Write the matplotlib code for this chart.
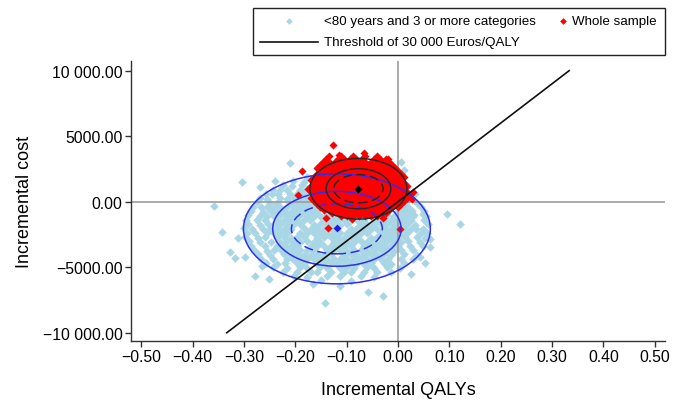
import matplotlib
matplotlib.use("Agg")
import matplotlib.pyplot as plt
from matplotlib.patches import Ellipse, Rectangle
from matplotlib.lines import Line2D

plt.rcParams['font.family'] = ['Liberation Sans', 'DejaVu Sans']

# ---------------- data ----------------
x_ticks = [-0.5, -0.4, -0.3, -0.2, -0.1, 0.0, 0.1, 0.2, 0.3, 0.4, 0.5]
x_tick_labels = ['\u22120.50', '\u22120.40', '\u22120.30', '\u22120.20', '\u22120.10', '0.00',
                 '0.10', '0.20', '0.30', '0.40', '0.50']
y_ticks = [-10000, -5000, 0, 5000, 10000]
y_tick_labels = ['\u221210 000.00', '\u22125000.00', '0.00', '5000.00', '10 000.00']

# "<80 years and 3 or more categories" bootstrap replicates (QALY, cost)
blue_qaly = [
    -0.358, -0.343, -0.312, -0.327, -0.317, -0.298, -0.278, -0.252, -0.265, -0.304, -0.239, -0.268, -0.210,
    -0.142, -0.058, -0.030, -0.113, -0.165,
    0.121, 0.095, 0.062, 0.053, 0.025, 0.005, 0.012, 0.043, 0.036, 0.049, 0.027, 0.062, 0.033,
    -0.178,
    -0.205, -0.183,
    -0.224, -0.207, -0.186,
    -0.244, -0.229, -0.217, -0.191, -0.178,
    -0.258, -0.246, -0.234, -0.210, -0.197, -0.184,
    -0.268, -0.255, -0.229, -0.216, -0.203, -0.190, -0.177, 0.022,
    -0.275, -0.249, -0.235, -0.210, -0.196, -0.183, -0.171, 0.013, 0.037,
    -0.282, -0.266, -0.255, -0.242, -0.229, -0.216, -0.203, -0.190, -0.177, -0.164, 0.006, 0.019, 0.044,
    -0.287, -0.262, -0.248, -0.235, -0.222, -0.209, -0.196, -0.183, -0.170, -0.157, -0.001, 0.012, 0.026, 0.050,
    -0.292, -0.268, -0.255, -0.242, -0.229, -0.216, -0.203, -0.190, -0.177, -0.164,
    -0.151, -0.138, -0.125, -0.034, -0.021, -0.008, 0.005, 0.018, 0.031, 0.055,
    -0.297, -0.274, -0.259, -0.236, -0.222, -0.210, -0.196, -0.183, -0.171, -0.144, -0.130, -0.118,
    -0.106, -0.092, -0.079, -0.066, -0.040, -0.027, -0.014, -0.001, 0.012, 0.026, 0.050,
    -0.292, -0.268, -0.254, -0.242, -0.229, -0.216, -0.203, -0.190, -0.164, -0.151, -0.138, -0.125,
    -0.112, -0.099, -0.073, -0.060, -0.047, -0.034, -0.021, -0.008, 0.005, 0.018, 0.033, 0.058,
    -0.299, -0.285, -0.262, -0.249, -0.235, -0.222, -0.209, -0.183, -0.170, -0.157, -0.144, -0.131,
    -0.118, -0.092, -0.079, -0.066, -0.053, -0.040, -0.027, -0.014, -0.001, 0.012, 0.025, 0.049,
    -0.294, -0.279, -0.256, -0.242, -0.229, -0.216, -0.190, -0.177, -0.164, -0.151, -0.138, -0.125,
    -0.112, -0.099, -0.086, -0.073, -0.060, -0.034, -0.021, -0.008, 0.005, 0.018, 0.044, 0.057,
    -0.298, -0.272, -0.259, -0.235, -0.222, -0.209, -0.196, -0.183, -0.157, -0.144, -0.131, -0.118,
    -0.105, -0.092, -0.079, -0.053, -0.040, -0.027, -0.014, -0.001, 0.013, 0.037, 0.052,
    -0.290, -0.268, -0.247, -0.229, -0.216, -0.203, -0.190, -0.177, -0.164, -0.151, -0.125, -0.112,
    -0.099, -0.086, -0.073, -0.060, -0.047, -0.034, -0.021, -0.008, 0.006, 0.019, 0.043,
    -0.286, -0.260, -0.236, -0.222, -0.209, -0.196, -0.170, -0.157, -0.144, -0.131, -0.118,
    -0.105, -0.092, -0.066, -0.053, -0.040, -0.027, -0.014, 0.000, 0.024, 0.049,
    -0.280, -0.256, -0.241, -0.228, -0.216, -0.203, -0.190, -0.177, -0.164, -0.138, -0.125,
    -0.112, -0.099, -0.086, -0.073, -0.060, -0.047, -0.034, -0.021, -0.008, 0.006, 0.030,
    -0.273, -0.249, -0.222, -0.209, -0.196, -0.183, -0.170, -0.157, -0.144, -0.131,
    -0.105, -0.092, -0.079, -0.066, -0.053, -0.040, -0.027, -0.013, 0.011, 0.037,
    -0.266, -0.243, -0.216, -0.204, -0.190, -0.177, -0.164, -0.151, -0.138, -0.125,
    -0.112, -0.099, -0.086, -0.073, -0.060, -0.047, -0.034, -0.020, 0.006, 0.030,
    -0.258, -0.235, -0.221, -0.196, -0.183, -0.157, -0.144, -0.131, -0.118,
    -0.105, -0.092, -0.079, -0.066, -0.053, -0.027, -0.014, 0.012,
    -0.243, -0.216, -0.190, -0.177, -0.151, -0.138, -0.112, -0.099, -0.086, -0.060, -0.047, -0.021, 0.004,
    -0.224, -0.196, -0.170, -0.157, -0.131, -0.105, -0.092, -0.066, -0.040, -0.014,
    -0.203, -0.177, -0.138, -0.112, -0.073, -0.047,
    -0.150, -0.092,
]
blue_cost = [
    -350, -2290, -2790, -3860, -4320, -4240, -5650, -5930, -4930, 1540, 1600, 1100, 2930,
    -7700, -6890, -7230, -6430, -6280,
    -1700, -940, -3480, -4700, -5520, 3000, 2440, -4240, -2080, -940, -690, -2850, 600,
    1880,
    1590, 1540,
    1260, 1210, 1250,
    930, 890, 920, 880, 940,
    560, 600, 570, 590, 550, 610,
    270, 230, 260, 240, 280, 220, 250, 240,
    -60, -100, -70, -90, -50, -110, -80, -70, -100,
    -390, -430, -400, -420, -380, -440, -410, -390, -430, -400, -420, -390, -410,
    -720, -760, -730, -750, -710, -770, -740, -720, -760, -730, -750, -720, -760, -740,
    -1050, -1090, -1060, -1080, -1040, -1100, -1070, -1050, -1090, -1060,
    -1080, -1040, -1100, -1070, -1050, -1090, -1060, -1080, -1040, -1070,
    -1380, -1420, -1390, -1410, -1370, -1430, -1400, -1380, -1420, -1390, -1410, -1370,
    -1430, -1400, -1380, -1420, -1390, -1410, -1370, -1430, -1400, -1380, -1420,
    -1710, -1750, -1720, -1740, -1700, -1760, -1730, -1710, -1750, -1720, -1740, -1700,
    -1760, -1730, -1710, -1750, -1720, -1740, -1700, -1760, -1730, -1710, -1750, -1720,
    -2040, -2080, -2050, -2070, -2030, -2090, -2060, -2040, -2080, -2050, -2070, -2030,
    -2090, -2060, -2040, -2080, -2050, -2070, -2030, -2090, -2060, -2040, -2080, -2050,
    -2370, -2410, -2380, -2400, -2360, -2420, -2390, -2370, -2410, -2380, -2400, -2360,
    -2420, -2390, -2370, -2410, -2380, -2400, -2360, -2420, -2390, -2370, -2410, -2380,
    -2700, -2740, -2710, -2730, -2690, -2750, -2720, -2700, -2740, -2710, -2730, -2690,
    -2750, -2720, -2700, -2740, -2710, -2730, -2690, -2750, -2720, -2700, -2740,
    -3030, -3070, -3040, -3060, -3020, -3080, -3050, -3030, -3070, -3040, -3060, -3020,
    -3080, -3050, -3030, -3070, -3040, -3060, -3020, -3080, -3050, -3030, -3070,
    -3360, -3400, -3370, -3390, -3350, -3410, -3380, -3360, -3400, -3370, -3390,
    -3350, -3410, -3380, -3360, -3400, -3370, -3390, -3350, -3410, -3380,
    -3690, -3730, -3700, -3720, -3680, -3740, -3710, -3690, -3730, -3700, -3720,
    -3680, -3740, -3710, -3690, -3730, -3700, -3720, -3680, -3740, -3710, -3690,
    -4020, -4060, -4030, -4050, -4010, -4070, -4040, -4020, -4060, -4030,
    -4050, -4010, -4070, -4040, -4020, -4060, -4030, -4050, -4010, -4070,
    -4350, -4390, -4360, -4380, -4340, -4400, -4370, -4350, -4390, -4360,
    -4380, -4340, -4400, -4370, -4350, -4390, -4360, -4380, -4340, -4400,
    -4680, -4720, -4690, -4710, -4670, -4730, -4700, -4680, -4720,
    -4690, -4710, -4670, -4730, -4700, -4680, -4720, -4690,
    -5010, -5050, -5020, -5040, -5000, -5060, -5030, -5010, -5050, -5020, -5040, -5000, -5060,
    -5340, -5380, -5350, -5370, -5330, -5390, -5360, -5340, -5380, -5350,
    -5670, -5710, -5680, -5700, -5660, -5720,
    -6000, -6040,
]

# "Whole sample" bootstrap replicates (QALY, cost)
red_qaly = [
    -0.127, -0.114, -0.067, -0.019, -0.187, -0.195, -0.145, -0.140, -0.136, 0.004, 0.030, 0.027, -0.090, -0.030,
    -0.111, -0.100, -0.088, -0.076, -0.065, -0.053, -0.041,
    -0.129, -0.117, -0.106, -0.094, -0.082, -0.070, -0.059, -0.047, -0.035, -0.024,
    -0.145, -0.135, -0.123, -0.111, -0.100, -0.088, -0.076, -0.065, -0.053, -0.041, -0.030, -0.018,
    -0.152, -0.141, -0.129, -0.117, -0.106, -0.094, -0.082, -0.070, -0.059, -0.047, -0.035, -0.024, -0.012, 0.000,
    -0.158, -0.147, -0.135, -0.123, -0.111, -0.100, -0.088, -0.076, -0.065, -0.053, -0.041, -0.030, -0.018, -0.006, 0.006,
    -0.164, -0.152, -0.141, -0.129, -0.117, -0.106, -0.094, -0.082, -0.070, -0.059, -0.047, -0.035, -0.024, -0.012, 0.000, 0.011,
    -0.170, -0.158, -0.147, -0.135, -0.123, -0.111, -0.100, -0.088, -0.076, -0.065, -0.053, -0.041, -0.030, -0.018, -0.006, 0.006, 0.017,
    -0.164, -0.152, -0.141, -0.129, -0.117, -0.106, -0.094, -0.082, -0.070, -0.059, -0.047, -0.035, -0.024, -0.012, 0.000, 0.011, 0.023,
    -0.170, -0.158, -0.147, -0.135, -0.123, -0.111, -0.100, -0.088, -0.076, -0.065, -0.053, -0.041, -0.030, -0.018, -0.006, 0.006, 0.017,
    -0.176, -0.164, -0.152, -0.141, -0.129, -0.117, -0.106, -0.094, -0.082, -0.070, -0.059, -0.047, -0.035, -0.024, -0.012, 0.000, 0.011,
    -0.170, -0.158, -0.147, -0.135, -0.123, -0.111, -0.100, -0.088, -0.076, -0.065, -0.053, -0.041, -0.030, -0.018, -0.006, 0.006, 0.017,
    -0.164, -0.152, -0.141, -0.129, -0.117, -0.106, -0.094, -0.082, -0.070, -0.059, -0.047, -0.035, -0.024, -0.012, 0.000, 0.011,
    -0.170, -0.158, -0.147, -0.135, -0.123, -0.111, -0.100, -0.088, -0.076, -0.065, -0.053, -0.041, -0.030, -0.018, -0.006, 0.006,
    -0.164, -0.152, -0.141, -0.129, -0.117, -0.106, -0.094, -0.082, -0.070, -0.059, -0.047, -0.035, -0.024, -0.012, 0.000, 0.011,
    -0.158, -0.147, -0.135, -0.123, -0.111, -0.100, -0.088, -0.076, -0.065, -0.053, -0.041, -0.030, -0.018, -0.006, 0.006,
    -0.152, -0.141, -0.129, -0.117, -0.106, -0.094, -0.082, -0.070, -0.059, -0.047, -0.035, -0.024, -0.012, 0.000,
    -0.158, -0.147, -0.135, -0.123, -0.111, -0.100, -0.088, -0.076, -0.065, -0.053, -0.041, -0.030, -0.018, -0.006,
    -0.152, -0.141, -0.129, -0.117, -0.106, -0.094, -0.082, -0.070, -0.059, -0.047, -0.035, -0.024, -0.012,
    -0.147, -0.135, -0.123, -0.111, -0.100, -0.088, -0.076, -0.065, -0.053, -0.041, -0.030, -0.018,
    -0.141, -0.117, -0.106, -0.094, -0.082, -0.070, -0.047, -0.035, -0.024,
    -0.135, -0.111, -0.088, -0.065, -0.041,
]
red_cost = [
    4350, 3560, 3720, 3260, 2370, 510, -300, -1270, -2030, -2080, 720, 200, -1300, -1250,
    -1100, -1100, -1100, -1100, -1100, -1100, -1100,
    -870, -870, -870, -870, -870, -870, -870, -870, -870, -870,
    -640, -640, -640, -640, -640, -640, -640, -640, -640, -640, -640, -640,
    -410, -410, -410, -410, -410, -410, -410, -410, -410, -410, -410, -410, -410, -410,
    -180, -180, -180, -180, -180, -180, -180, -180, -180, -180, -180, -180, -180, -180, -180,
    50, 50, 50, 50, 50, 50, 50, 50, 50, 50, 50, 50, 50, 50, 50, 50,
    280, 280, 280, 280, 280, 280, 280, 280, 280, 280, 280, 280, 280, 280, 280, 280, 280,
    510, 510, 510, 510, 510, 510, 510, 510, 510, 510, 510, 510, 510, 510, 510, 510, 510,
    740, 740, 740, 740, 740, 740, 740, 740, 740, 740, 740, 740, 740, 740, 740, 740, 740,
    970, 970, 970, 970, 970, 970, 970, 970, 970, 970, 970, 970, 970, 970, 970, 970, 970,
    1200, 1200, 1200, 1200, 1200, 1200, 1200, 1200, 1200, 1200, 1200, 1200, 1200, 1200, 1200, 1200, 1200,
    1430, 1430, 1430, 1430, 1430, 1430, 1430, 1430, 1430, 1430, 1430, 1430, 1430, 1430, 1430, 1430,
    1660, 1660, 1660, 1660, 1660, 1660, 1660, 1660, 1660, 1660, 1660, 1660, 1660, 1660, 1660, 1660,
    1890, 1890, 1890, 1890, 1890, 1890, 1890, 1890, 1890, 1890, 1890, 1890, 1890, 1890, 1890, 1890,
    2120, 2120, 2120, 2120, 2120, 2120, 2120, 2120, 2120, 2120, 2120, 2120, 2120, 2120, 2120,
    2350, 2350, 2350, 2350, 2350, 2350, 2350, 2350, 2350, 2350, 2350, 2350, 2350, 2350,
    2580, 2580, 2580, 2580, 2580, 2580, 2580, 2580, 2580, 2580, 2580, 2580, 2580, 2580,
    2810, 2810, 2810, 2810, 2810, 2810, 2810, 2810, 2810, 2810, 2810, 2810, 2810,
    3040, 3040, 3040, 3040, 3040, 3040, 3040, 3040, 3040, 3040, 3040, 3040,
    3270, 3270, 3270, 3270, 3270, 3270, 3270, 3270, 3270,
    3500, 3500, 3500, 3500, 3500,
]

# mean points
blue_mean = [-0.119, -2030]
red_mean = [-0.077, 970]

# confidence ellipses (centre, full width in QALY, full height in cost)
blue_ell_center = [-0.119, -2070]
blue_ell_width = [0.364, 0.250, 0.177]
blue_ell_height = [8400, 5720, 3820]
black_ell_center = [-0.077, 990]
black_ell_width = [0.189, 0.126, 0.096]
black_ell_height = [4630, 3060, 2160]
ell_styles = ['solid', 'solid', (0, (6, 3))]

# willingness-to-pay threshold line (30 000 Euros/QALY)
threshold_qaly = [-0.3333, 0.3333]
threshold_cost = [-10000, 10000]

# ---------------- figure ----------------
W, H = 683, 406
fig = plt.figure(figsize=(W / 100, H / 100), dpi=100)
ax_l, ax_r, ax_t, ax_b = 131, 665, 62, 341.7
ax = fig.add_axes([ax_l / W, 1 - ax_b / H, (ax_r - ax_l) / W, (ax_b - ax_t) / H])

light_blue = '#A9D6E5'
red = '#FF0000'
ell_blue = '#2E2EF0'
ell_black = '#2A2A2A'

ax.scatter(blue_qaly, blue_cost, marker='D', s=19, c=light_blue, linewidths=0, zorder=2)
ax.axhline(0, color='#9C9C9C', lw=1.2, zorder=2.5)
ax.axvline(0, color='#9C9C9C', lw=1.2, zorder=2.5)
ax.scatter(red_qaly, red_cost, marker='D', s=17, c=red, linewidths=0, zorder=3)

for w, h, ls in zip(blue_ell_width, blue_ell_height, ell_styles):
    ax.add_patch(Ellipse(blue_ell_center, w, h, fill=False, ec=ell_blue, lw=1.1, ls=ls, zorder=4))
for w, h, ls in zip(black_ell_width, black_ell_height, ell_styles):
    ax.add_patch(Ellipse(black_ell_center, w, h, fill=False, ec=ell_black, lw=1.1, ls=ls, zorder=4))

ax.plot(threshold_qaly, threshold_cost, color='#111111', lw=1.2, zorder=5)
ax.scatter([blue_mean[0]], [blue_mean[1]], marker='D', s=16, c='#1A1AE6', linewidths=0, zorder=6)
ax.scatter([red_mean[0]], [red_mean[1]], marker='D', s=16, c='black', linewidths=0, zorder=6)

ax.set_xlim(-0.52, 0.52)
ax.set_ylim(-10610, 10740)
ax.set_xticks(x_ticks)
ax.set_xticklabels(x_tick_labels)
ax.set_yticks(y_ticks)
ax.set_yticklabels(y_tick_labels)
for s in ['top', 'right']:
    ax.spines[s].set_visible(False)
for s in ['left', 'bottom']:
    ax.spines[s].set_color('#333333')
    ax.spines[s].set_linewidth(1.0)
ax.tick_params(axis='both', direction='out', length=4, width=1, color='#333333', labelsize=11.3)
ax.tick_params(axis='y', pad=2)
ax.tick_params(axis='x', pad=2)
ax.set_xlabel('Incremental QALYs', fontsize=13, labelpad=12)
ax.set_ylabel('Incremental cost', fontsize=13, labelpad=7)

# legend box (figure pixel layout)
def fx(px):
    return px / W

def fy(py):
    return 1 - py / H

fig.patches.append(Rectangle((fx(253), fy(56)), fx(665) - fx(253), fy(8.5) - fy(56),
                             transform=fig.transFigure, fill=False, ec='#222222', lw=1.0))
fig.add_artist(Line2D([fx(289)], [fy(22)], marker='D', ms=3.4, color=light_blue, mew=0, ls='none'))
fig.text(fx(324), fy(22), '<80 years and 3 or more categories', fontsize=9.6, va='center', ha='left')
fig.add_artist(Line2D([fx(562.5)], [fy(22)], marker='D', ms=3.4, color=red, mew=0, ls='none'))
fig.text(fx(572), fy(22), 'Whole sample', fontsize=9.6, va='center', ha='left')
fig.add_artist(Line2D([fx(260), fx(318)], [fy(43), fy(43)], color='#111111', lw=1.2))
fig.text(fx(324), fy(43), 'Threshold of 30 000 Euros/QALY', fontsize=9.6, va='center', ha='left')

fig.savefig('out.png', dpi=100)
